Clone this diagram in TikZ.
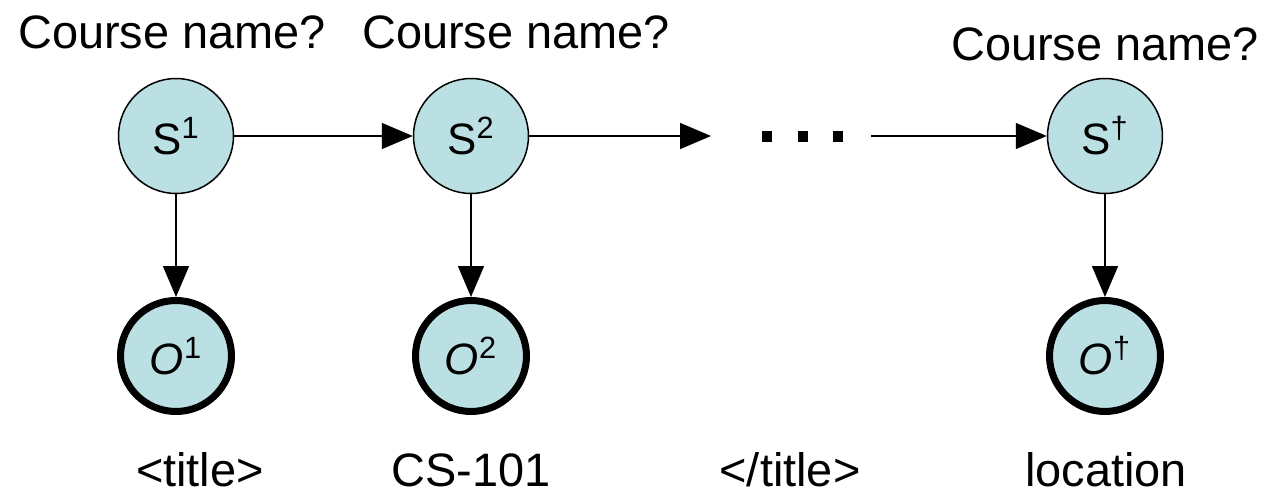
\documentclass[tikz,border=0pt]{standalone}
\usepackage{fontspec}
\setmainfont{Liberation Sans}
\usepackage{xcolor}
\usetikzlibrary{arrows.meta}
\definecolor{statefill}{HTML}{BBE0E4}

\tikzset{
    state/.style={circle, draw, line width=0.85pt, fill=statefill,
        minimum size=2.3cm, inner sep=0pt, font=\fontsize{25}{25}\selectfont},
    obs/.style={state, line width=4pt, minimum size=2.22cm},
    lbl/.style={font=\fontsize{26.7}{30}\selectfont},
    link/.style={-{Triangle[length=0.62cm,width=0.52cm]}, line width=0.85pt},
}

\begin{document}
\begin{tikzpicture}[x=0.02cm, y=-0.02cm]
        \useasboundingbox (0,0) rectangle (1269,497);
        % hidden states
        \node[state] (s1) at (176,136) {S\textsuperscript{1}};
        \node[state] (s2) at (471,136) {S\textsuperscript{2}};
        \node[state] (st) at (1105,136) {S\textsuperscript{†}};
        % observations
        \node[obs] (o1) at (176,356) {\textit{O}\textsuperscript{1}};
        \node[obs] (o2) at (471,356) {\textit{O}\textsuperscript{2}};
        \node[obs] (ot) at (1105,356) {\textit{O}\textsuperscript{†}};
        % gap in the chain
        \node[minimum width=3.2cm, inner sep=0pt, outer sep=0pt] (dots) at (791,136) {};
        \fill (762,131) rectangle (772,142);
        \fill (798,131) rectangle (808,142);
        \fill (833,131) rectangle (843,142);
        % transitions and emissions
        \draw[link] (s1) -- (s2);
        \draw[link] (s2) -- (dots.west);
        \draw[link] (dots.east) -- (st);
        \draw[link] (s1) -- (o1);
        \draw[link] (s2) -- (o2);
        \draw[link] (st) -- (ot);
        % question labels
        \node[lbl] (q1) at (172,32) {Course name?};
        \node[lbl] (q2) at (516,32) {Course name?};
        \node[lbl] (qt) at (1105,44) {Course name?};
        % observed tokens
        \node[lbl] (w1) at (200,470) {<title>};
        \node[lbl] (w2) at (471,470) {CS-101};
        \node[lbl] (w3) at (790,470) {</title>};
        \node[lbl] (wt) at (1106,470) {location};
    \end{tikzpicture}
\end{document}
